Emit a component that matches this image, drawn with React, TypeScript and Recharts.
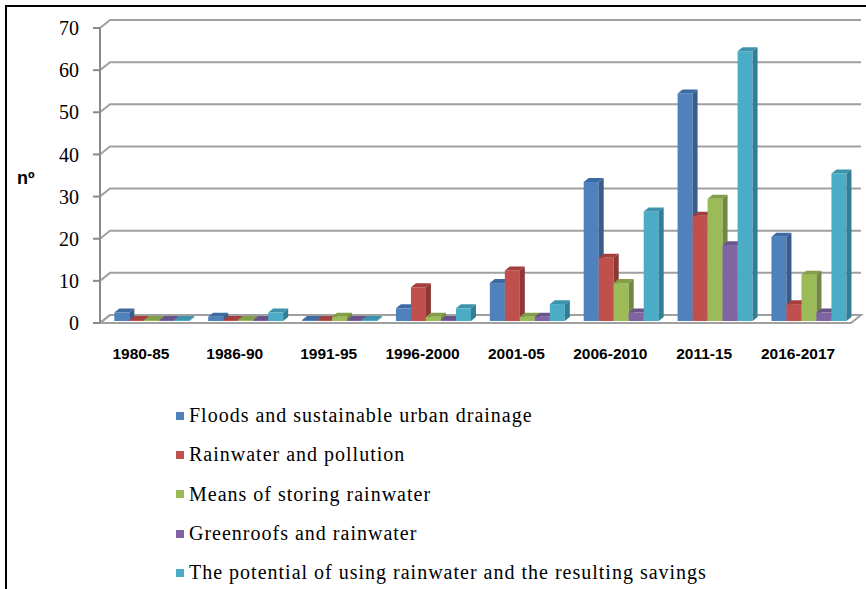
import React from "react";
import { BarChart, Bar, XAxis, YAxis, CartesianGrid, Legend } from "recharts";

const periods = ["1980-85", "1986-90", "1991-95", "1996-2000", "2001-05", "2006-2010", "2011-15", "2016-2017"];
const floods = [2, 1, 0, 3, 9, 33, 54, 20];
const pollution = [0, 0, 0, 8, 12, 15, 25, 4];
const storing = [0, 0, 1, 1, 1, 9, 29, 11];
const greenroofs = [0, 0, 0, 0, 1, 2, 18, 2];
const savings = [0, 2, 0, 3, 4, 26, 64, 35];
const yTicks = [0, 10, 20, 30, 40, 50, 60, 70];

const series = [
  { key: "floods", name: "Floods and sustainable urban drainage", front: "#4F81BD", side: "#385D8A", top: "#3C6BA3" },
  { key: "pollution", name: "Rainwater and pollution", front: "#C0504D", side: "#8C3836", top: "#A43F3C" },
  { key: "storing", name: "Means of storing rainwater", front: "#9BBB59", side: "#71893F", top: "#829F48" },
  { key: "greenroofs", name: "Greenroofs and rainwater", front: "#8064A2", side: "#5C4776", top: "#6A528A" },
  { key: "savings", name: "The potential of using rainwater and the resulting savings", front: "#4BACC6", side: "#317F94", top: "#3C93AB" },
];

const data = periods.map((p, i) => ({
  period: p,
  floods: floods[i],
  pollution: pollution[i],
  storing: storing[i],
  greenroofs: greenroofs[i],
  savings: savings[i],
}));

// depth of the back wall and of the bars (pseudo 3D)
const WALL_DX = 10;
const WALL_DY = 8;
const BAR_DX = 5;
const BAR_DY = 4;

function Box(props: any) {
  const { x, y, width, height, front, side, top } = props;
  if (width == null || height == null) return null;
  const fx = x + 4;
  const fy = y - 2;
  const w = width;
  const h = Math.max(height, 0);
  return (
    <g>
      <rect x={fx} y={fy} width={w} height={h} fill={front} />
      <polygon
        points={`${fx},${fy} ${fx + BAR_DX},${fy - BAR_DY} ${fx + w + BAR_DX},${fy - BAR_DY} ${fx + w},${fy}`}
        fill={top}
      />
      <polygon
        points={`${fx + w},${fy} ${fx + w + BAR_DX},${fy - BAR_DY} ${fx + w + BAR_DX},${fy + h - BAR_DY} ${fx + w},${fy + h}`}
        fill={side}
      />
    </g>
  );
}

function WallLine(props: any) {
  const { x1, y1, x2, y, height } = props;
  const isFloor = Math.abs(y1 - (y + height)) < 0.5;
  return (
    <g>
      {isFloor && (
        <polygon
          points={`${x1},${y1} ${x1 + WALL_DX},${y1 - WALL_DY} ${x2 + WALL_DX},${y1 - WALL_DY} ${x2},${y1}`}
          fill="#fff"
          stroke="#a0a0a0"
          strokeWidth={2}
        />
      )}
      <polyline
        points={`${x1},${y1} ${x1 + WALL_DX},${y1 - WALL_DY} ${x2 + WALL_DX},${y1 - WALL_DY}`}
        fill="none"
        stroke="#a0a0a0"
        strokeWidth={2}
      />
    </g>
  );
}

function LegendList() {
  return (
    <div
      style={{
        fontFamily: "'Liberation Serif', 'Times New Roman', serif",
        fontSize: 20,
        letterSpacing: 1,
        color: "#000",
      }}
    >
      {series.map((s) => (
        <div key={s.key} style={{ display: "flex", alignItems: "center", height: 39.3 }}>
          <span style={{ display: "inline-block", width: 8, height: 8, background: s.front, marginRight: 5 }} />
          <span style={{ whiteSpace: "nowrap" }}>{s.name}</span>
        </div>
      ))}
    </div>
  );
}

export default function App() {
  return (
    <div style={{ position: "absolute", left: 0, top: 0, width: 866, height: 589, background: "#fff" }}>
      <div
        style={{
          position: "absolute",
          left: 5,
          top: 5,
          width: 861,
          height: 584,
          borderLeft: "2px solid #000",
          borderTop: "2px solid #000",
        }}
      />
      <div
        style={{
          position: "absolute",
          left: 17,
          top: 168,
          fontFamily: "'Liberation Sans', Arial, sans-serif",
          fontWeight: "bold",
          fontSize: 18,
        }}
      >
        nº
      </div>
      <BarChart
        width={866}
        height={589}
        data={data}
        margin={{ top: 28, right: 15, bottom: 0, left: 0 }}
        barCategoryGap="11%"
        barGap={0}
        style={{ position: "absolute", left: 0, top: 0 }}
      >
        <CartesianGrid vertical={false} horizontal={(p: any) => <WallLine key={p.key ?? p.index} {...p} />} />
        <XAxis
          dataKey="period"
          height={266}
          axisLine={false}
          tickLine={false}
          tickSize={0}
          tickMargin={25}
          interval={0}
          tick={{ fontFamily: "'Liberation Sans', Arial, sans-serif", fontWeight: "bold", fontSize: 15.5, fill: "#000", dx: -6 }}
        />
        <YAxis
          width={100}
          domain={[0, 70]}
          ticks={yTicks}
          interval={0}
          axisLine={{ stroke: "#8a8a8a", strokeWidth: 2 }}
          tickLine={{ stroke: "#8a8a8a", strokeWidth: 2 }}
          tickSize={7}
          tickMargin={14}
          tick={{ fontFamily: "'Liberation Serif', 'Times New Roman', serif", fontSize: 20, fill: "#000" }}
        />
        <Legend
          layout="horizontal"
          verticalAlign="middle"
          align="center"
          wrapperStyle={{ left: 176, top: 396, width: "auto" }}
          content={() => <LegendList />}
        />
        {series.map((s) => (
          <Bar
            key={s.key}
            dataKey={s.key}
            name={s.name}
            fill={s.front}
            minPointSize={1}
            isAnimationActive={false}
            shape={(p: any) => <Box {...p} front={s.front} side={s.side} top={s.top} />}
          />
        ))}
      </BarChart>
    </div>
  );
}
